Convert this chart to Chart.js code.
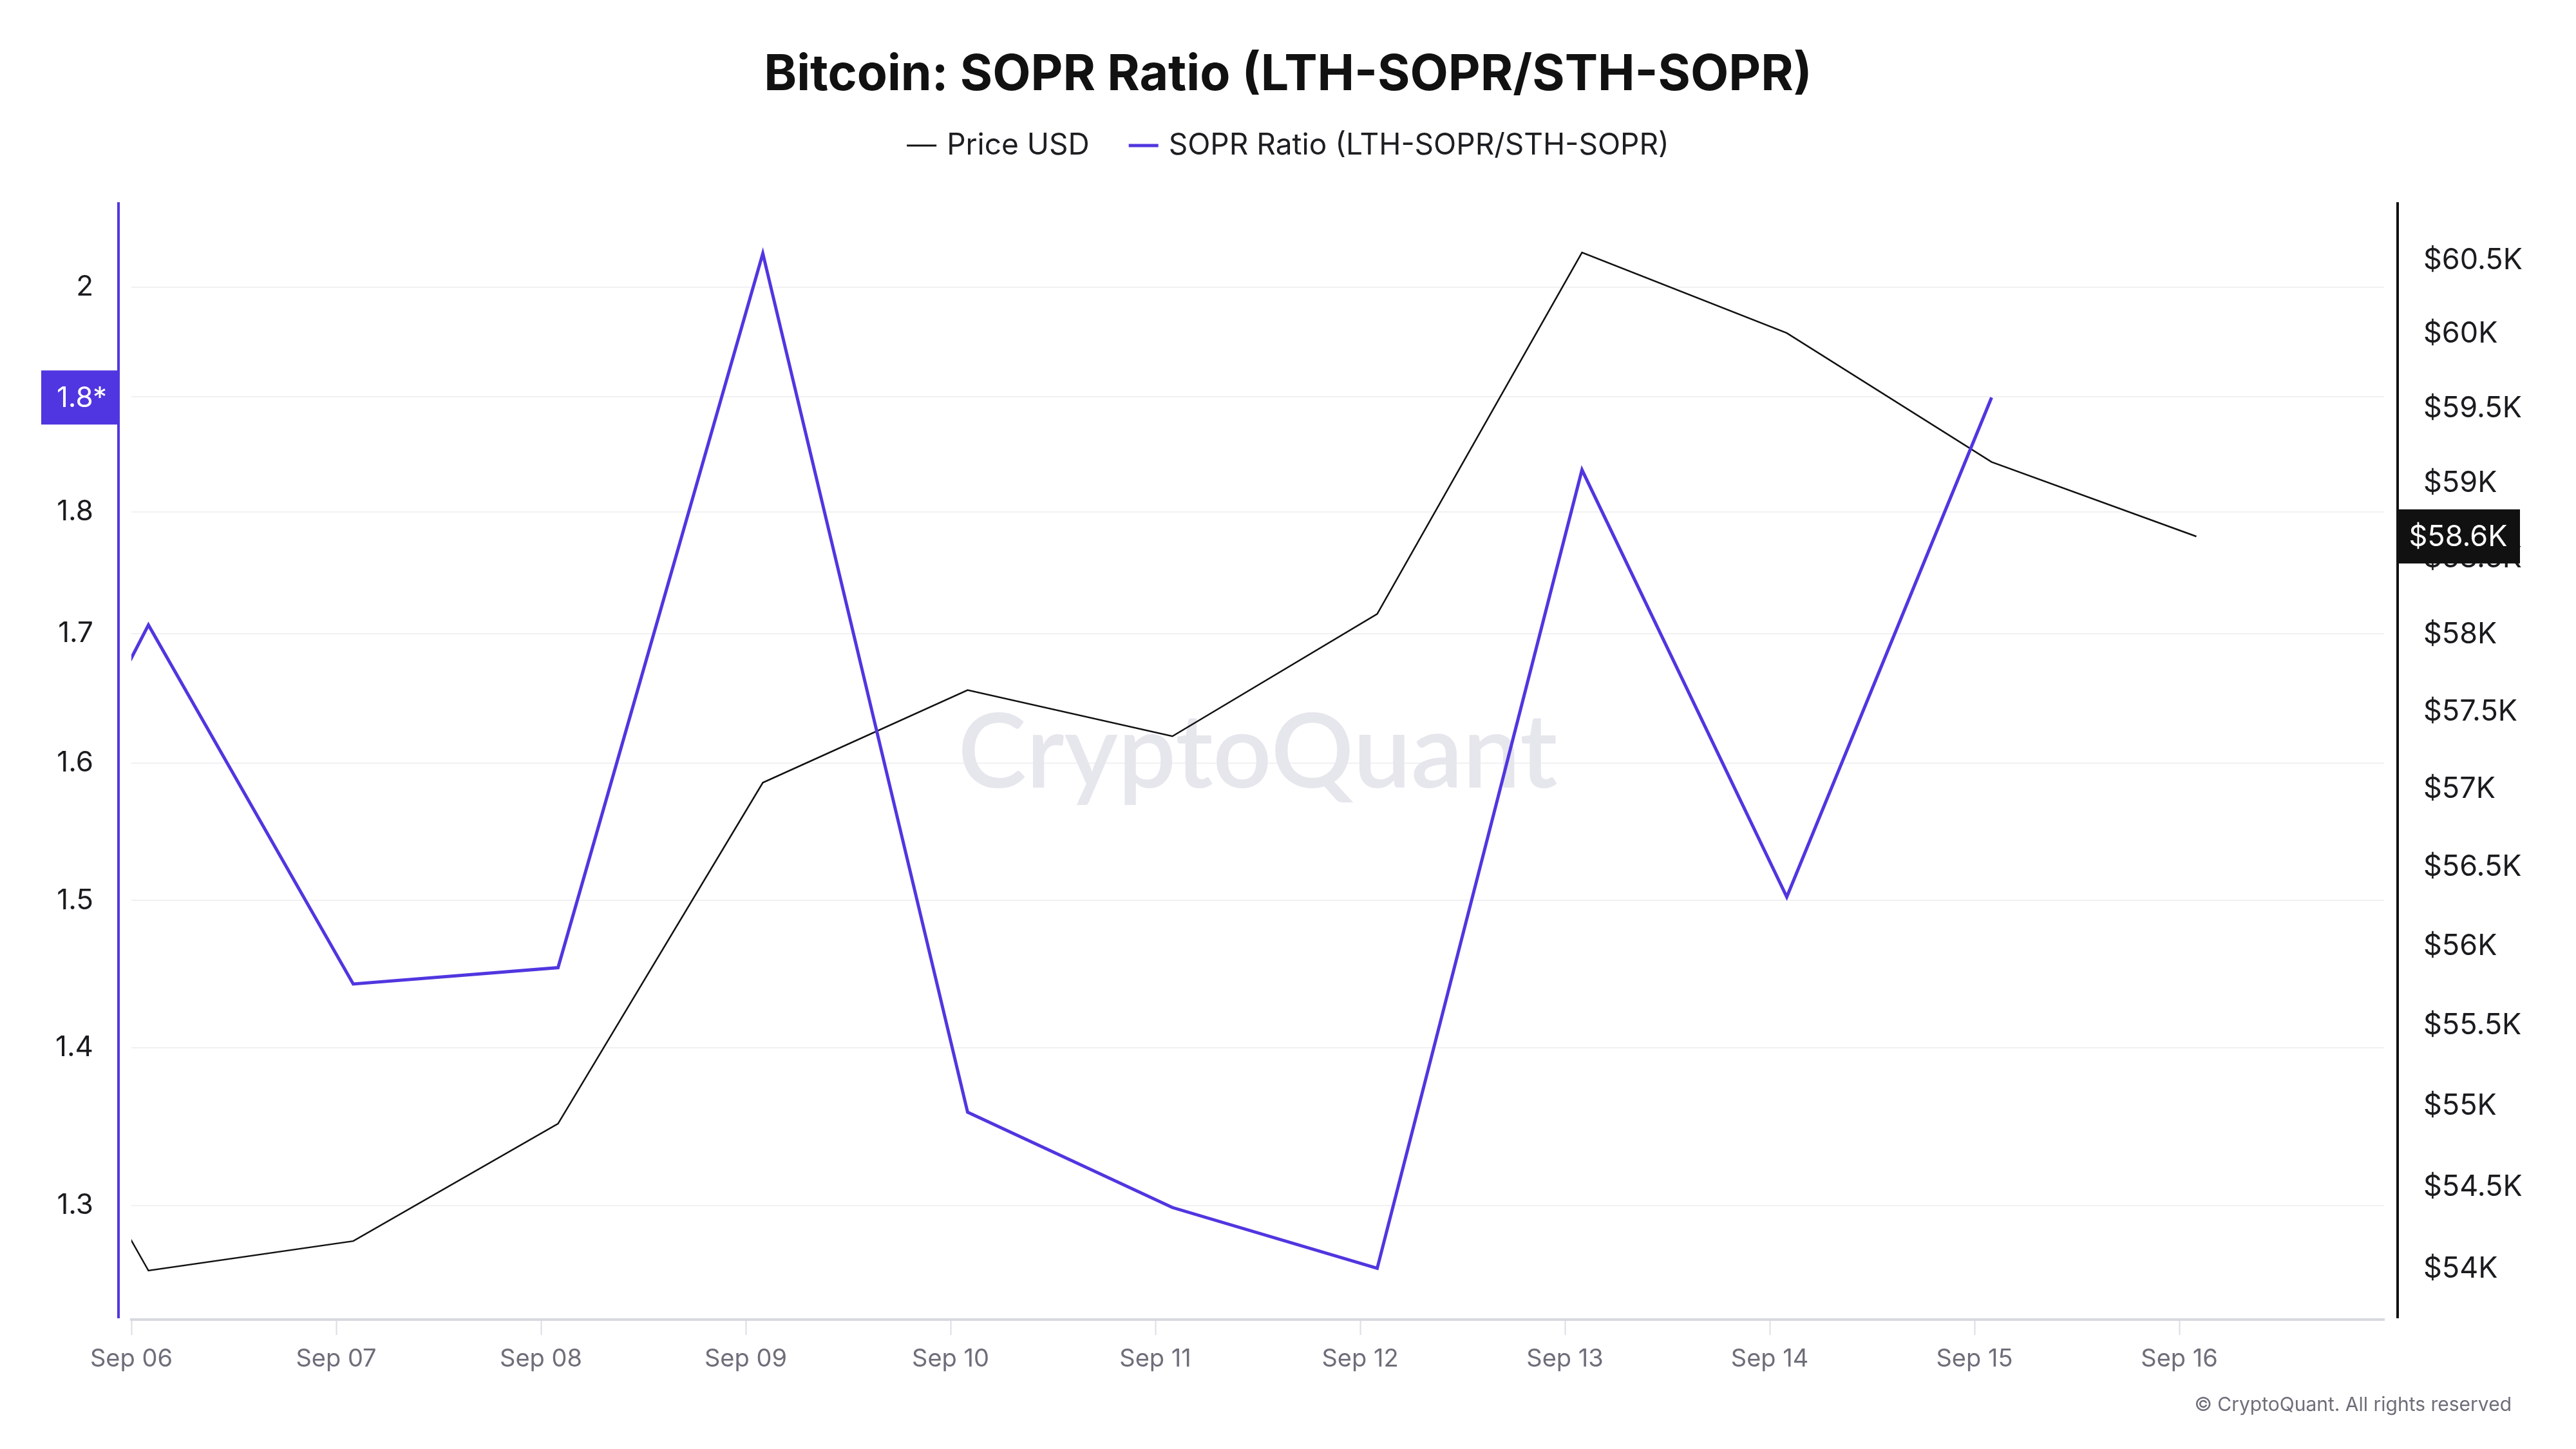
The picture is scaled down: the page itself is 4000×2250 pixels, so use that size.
<!DOCTYPE html>
<html>
<head>
<meta charset="utf-8">
<script src="https://cdn.jsdelivr.net/npm/chart.js@4.4.1/dist/chart.umd.min.js"></script>
<style>
html,body{margin:0;padding:0;background:#ffffff;}
#wrap{width:4000px;height:2250px;position:relative;}
</style>
</head>
<body>
<div id="wrap"><canvas id="c" width="4000" height="2250"></canvas></div>
<script>
// ---- data ----
const dayLabels = ['Sep 06','Sep 07','Sep 08','Sep 09','Sep 10','Sep 11','Sep 12','Sep 13','Sep 14','Sep 15','Sep 16'];
const pointDates = ['Sep 05','Sep 06','Sep 07','Sep 08','Sep 09','Sep 10','Sep 11','Sep 12','Sep 13','Sep 14','Sep 15','Sep 16'];
const priceUSD = [56220, 53973, 54153, 54874, 57025, 57623, 57324, 58120, 60537, 59990, 59124, 58630];
const soprRatio = [1.417, 1.707, 1.4424, 1.4535, 2.032, 1.3582, 1.2988, 1.2623, 1.8358, 1.5025, 1.8992, null];
const leftTicks = [1.3, 1.4, 1.5, 1.6, 1.7, 1.8, 1.9, 2];
const rightTicks = [54000, 54500, 55000, 55500, 56000, 56500, 57000, 57500, 58000, 58500, 59000, 59500, 60000, 60500];
const pointHourOffset = 2; // data timestamps sit 2h after local midnight

const TITLE = 'Bitcoin: SOPR Ratio (LTH-SOPR/STH-SOPR)';
const PRICE_NAME = 'Price USD';
const SOPR_NAME = 'SOPR Ratio (LTH-SOPR/STH-SOPR)';
const PURPLE = '#5036E0';
const FONT = 'Inter, "Noto Sans", "DejaVu Sans", sans-serif';

function toPoints(arr){
  return arr.map((v, i) => ({ x: (i - 1) + pointHourOffset / 24, y: v }));
}

const decor = {
  id: 'decor',
  beforeDatasetsDraw(chart){
    const ctx = chart.ctx, a = chart.chartArea;
    ctx.save();
    ctx.font = '600 160px Lato, ' + FONT;
    ctx.fillStyle = '#e6e6ed';
    ctx.textAlign = 'center';
    ctx.textBaseline = 'alphabetic';
    ctx.fillText('CryptoQuant', (a.left + a.right) / 2, 1223);
    ctx.restore();
  },
  afterDraw(chart){
    const ctx = chart.ctx, a = chart.chartArea;
    const yL = chart.scales.yL, yR = chart.scales.yR;
    ctx.save();
    // axis lines
    const lx = a.left - 20, rx = a.right + 21;
    ctx.lineWidth = 4;
    ctx.strokeStyle = PURPLE;
    ctx.beginPath(); ctx.moveTo(lx, a.top); ctx.lineTo(lx, a.bottom - 2); ctx.stroke();
    ctx.strokeStyle = '#111111';
    ctx.beginPath(); ctx.moveTo(rx, a.top); ctx.lineTo(rx, a.bottom - 2); ctx.stroke();

    // last-value badges
    let lastS = null; for (const v of soprRatio) if (v != null) lastS = v;
    let lastP = null; for (const v of priceUSD) if (v != null) lastP = v;
    ctx.font = '44px ' + FONT;
    ctx.textAlign = 'center';
    ctx.textBaseline = 'middle';
    if (lastS != null){
      const y = yL.getPixelForValue(lastS);
      ctx.fillStyle = PURPLE;
      ctx.fillRect(lx - 120, y - 42, 120, 84);
      ctx.fillStyle = '#ffffff';
      ctx.fillText((Math.floor(lastS * 10) / 10) + '*', lx - 57, y + 2);
    }
    if (lastP != null){
      const y = yR.getPixelForValue(lastP);
      ctx.fillStyle = '#111111';
      ctx.fillRect(rx - 1, y - 42, 191, 84);
      ctx.fillStyle = '#ffffff';
      ctx.font = '45px ' + FONT;
      ctx.fillText('$' + (lastP / 1000).toFixed(1) + 'K', rx + 94, y + 2);
    }

    // title
    ctx.fillStyle = '#111111';
    ctx.font = 'bold 77px ' + FONT;
    ctx.fillText(TITLE, 2000, 117);

    // legend
    ctx.font = '46px ' + FONT;
    const lineW = 46, gapT = 16, gapI = 61;
    const w1 = ctx.measureText(PRICE_NAME).width, w2 = ctx.measureText(SOPR_NAME).width;
    const total = lineW + gapT + w1 + gapI + lineW + gapT + w2;
    let x = 2000 - total / 2;
    const ly = 226;
    ctx.textAlign = 'left';
    ctx.strokeStyle = '#111111'; ctx.lineWidth = 3;
    ctx.beginPath(); ctx.moveTo(x, ly); ctx.lineTo(x + lineW, ly); ctx.stroke();
    x += lineW + gapT;
    ctx.fillStyle = '#1e1e22';
    ctx.fillText(PRICE_NAME, x, ly);
    x += w1 + gapI;
    ctx.strokeStyle = PURPLE; ctx.lineWidth = 5;
    ctx.beginPath(); ctx.moveTo(x, ly); ctx.lineTo(x + lineW, ly); ctx.stroke();
    x += lineW + gapT;
    ctx.fillText(SOPR_NAME, x, ly);

    // copyright
    ctx.font = '30px ' + FONT;
    ctx.fillStyle = '#6e6e7a';
    ctx.textAlign = 'right';
    ctx.fillText('\u00A9 CryptoQuant. All rights reserved', 3900, 2182);
    ctx.restore();
  }
};

new Chart(document.getElementById('c'), {
  type: 'line',
  data: {
    datasets: [
      {
        label: SOPR_NAME,
        data: toPoints(soprRatio),
        yAxisID: 'yL',
        borderColor: PURPLE,
        borderWidth: 5,
        pointRadius: 0,
        tension: 0,
        clip: 0,
        order: 0
      },
      {
        label: PRICE_NAME,
        data: toPoints(priceUSD),
        yAxisID: 'yR',
        borderColor: '#111111',
        borderWidth: 2.5,
        pointRadius: 0,
        tension: 0,
        clip: 0,
        order: 1
      }
    ]
  },
  options: {
    responsive: false,
    animation: false,
    devicePixelRatio: 1,
    layout: { padding: { top: 314, left: 0, right: 0, bottom: 0 } },
    plugins: {
      legend: { display: false },
      title: { display: false },
      tooltip: { enabled: false }
    },
    scales: {
      x: {
        type: 'linear',
        position: 'bottom',
        min: 0,
        max: 11,
        bounds: 'data',
        afterBuildTicks(s){ s.ticks = dayLabels.map((_, i) => ({ value: i })); },
        afterFit(s){ s.height = 201; },
        ticks: {
          autoSkip: false,
          maxRotation: 0,
          padding: 15,
          color: '#6e6e7a',
          font: { family: FONT, size: 38 },
          callback: (v, i) => dayLabels[i]
        },
        grid: { drawOnChartArea: false, drawTicks: true, tickLength: 24, tickColor: '#dcdce4', tickWidth: 2 },
        border: { display: true, color: '#d8d8e1', width: 4 }
      },
      yL: {
        type: 'logarithmic',
        position: 'left',
        min: 1.2323,
        max: 2.0814,
        bounds: 'data',
        afterBuildTicks(s){ s.ticks = leftTicks.map(v => ({ value: v })); },
        afterFit(s){ s.width = 204; },
        ticks: {
          padding: 59,
          color: '#1b1b1f',
          font: { family: FONT, size: 44 },
          callback: (v) => String(v)
        },
        grid: { color: '#f1f1f3', lineWidth: 2, drawTicks: false },
        border: { display: false }
      },
      yR: {
        type: 'logarithmic',
        position: 'right',
        min: 53676,
        max: 60881,
        bounds: 'data',
        afterBuildTicks(s){ s.ticks = rightTicks.map(v => ({ value: v })); },
        afterFit(s){ s.width = 298; },
        ticks: {
          padding: 61,
          labelOffset: 4,
          color: '#1b1b1f',
          font: { family: FONT, size: 45 },
          callback: (v) => '$' + (v / 1000) + 'K'
        },
        grid: { drawOnChartArea: false, drawTicks: false },
        border: { display: false }
      }
    }
  },
  plugins: [decor]
});
</script>
</body>
</html>
